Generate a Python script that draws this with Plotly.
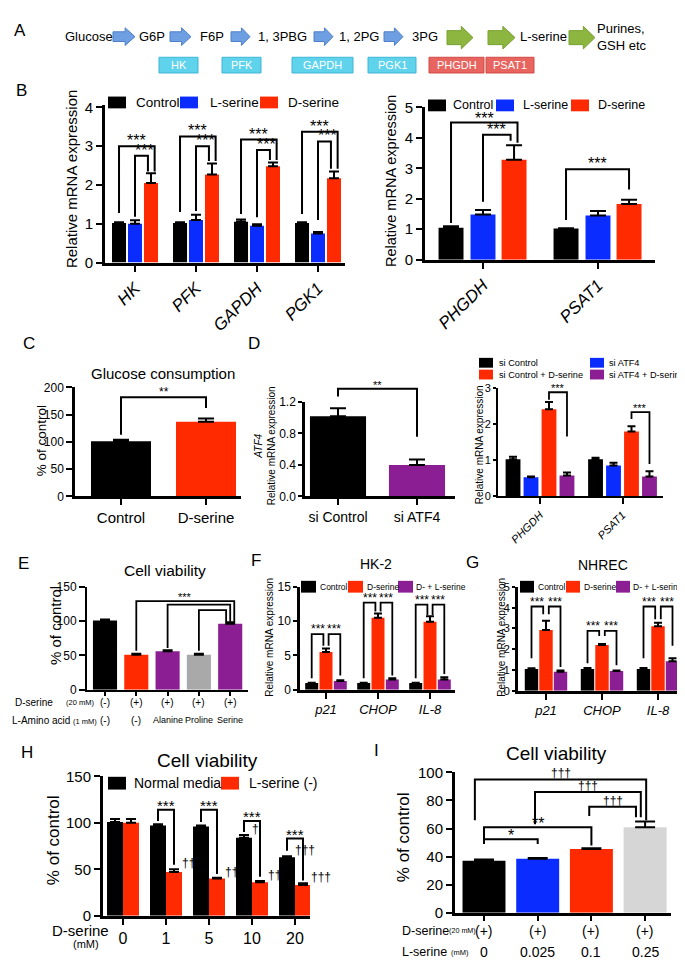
import plotly.graph_objects as go

W, H = 685, 960
FONT = "Liberation Sans, Arial, Helvetica, sans-serif"
BLACK, RED, BLUE, PURPLE = "#000000", "#ff2a00", "#0b2cff", "#8b1e92"
GRAY_E, GRAY_I = "#a9a9a9", "#d6d6d6"

# ======================= DATA =======================
# Panel A (pathway)
a_metabolites = ["Glucose", "G6P", "F6P", "1, 3PBG", "1, 2PG", "3PG", "L-serine", "Purines,<br>GSH etc"]
a_enzymes = ["HK", "PFK", "GAPDH", "PGK1", "PHGDH", "PSAT1"]

# Panel B (left)
b_series = ["Control", "L-serine", "D-serine"]
b1_genes = ["HK", "PFK", "GAPDH", "PGK1"]
b1_ctrl = [1.02, 1.02, 1.05, 1.02]
b1_ctrl_err = [0.02, 0.02, 0.06, 0.02]
b1_lser = [1.00, 1.10, 0.95, 0.75]
b1_lser_err = [0.09, 0.13, 0.04, 0.04]
b1_dser = [2.05, 2.27, 2.48, 2.17]
b1_dser_err = [0.25, 0.28, 0.10, 0.18]

# Panel B (right)
b2_genes = ["PHGDH", "PSAT1"]
b2_ctrl = [1.05, 1.02]
b2_ctrl_err = [0.05, 0.01]
b2_lser = [1.48, 1.45]
b2_lser_err = [0.15, 0.15]
b2_dser = [3.28, 1.83]
b2_dser_err = [0.48, 0.14]

# Panel C
c_groups = ["Control", "D-serine"]
c_vals = [101, 137]
c_err = [3, 6]

# Panel D (left)
d1_groups = ["si Control", "si ATF4"]
d1_vals = [1.02, 0.40]
d1_err = [0.10, 0.07]

# Panel D (right)
d2_genes = ["PHGDH", "PSAT1"]
d2_series = ["si Control", "si ATF4", "si Control + D-serine", "si ATF4 + D-serine"]
d2_sictrl = [1.03, 1.03]
d2_sictrl_err = [0.07, 0.04]
d2_siatf4 = [0.53, 0.86]
d2_siatf4_err = [0.02, 0.07]
d2_sictrl_d = [2.42, 1.80]
d2_sictrl_d_err = [0.20, 0.15]
d2_siatf4_d = [0.58, 0.55]
d2_siatf4_d_err = [0.08, 0.15]

# Panel E
e_dser = ["(-)", "(+)", "(+)", "(+)", "(+)"]
e_aa = ["(-)", "(-)", "Alanine", "Proline", "Serine"]
e_vals = [101, 51, 56, 51, 96]
e_err = [1.5, 1.5, 1.5, 1.5, 2.5]

# Panels F / G
fg_series = ["Control", "D-serine", "D- + L-serine"]
fg_genes = ["p21", "CHOP", "IL-8"]
f_ctrl = [1.0, 1.0, 1.0]
f_ctrl_err = [0.05, 0.05, 0.05]
f_dser = [5.5, 10.5, 9.9]
f_dser_err = [0.5, 0.6, 0.8]
f_dl = [1.3, 1.5, 1.5]
f_dl_err = [0.1, 0.2, 0.35]
g_ctrl = [1.05, 1.05, 1.05]
g_ctrl_err = [0.03, 0.05, 0.05]
g_dser = [2.92, 2.20, 3.10]
g_dser_err = [0.45, 0.05, 0.17]
g_dl = [0.92, 0.95, 1.42]
g_dl_err = [0.06, 0.03, 0.14]

# Panel H
h_series = ["Normal media", "L-serine (-)"]
h_dose = ["0", "1", "5", "10", "20"]
h_normal = [101, 97, 96, 84, 63]
h_normal_err = [3, 1.5, 1, 3, 1]
h_lminus = [100, 47, 40, 36, 33]
h_lminus_err = [4, 3, 1, 1.5, 2]
h_dag_normal = ["", "", "", "\u2020", "\u2020\u2020\u2020"]
h_dag_lminus = ["", "\u2020\u2020\u2020", "\u2020\u2020\u2020", "\u2020\u2020\u2020", "\u2020\u2020\u2020"]

# Panel I
i_dser = ["(+)", "(+)", "(+)", "(+)"]
i_lser = ["0", "0.025", "0.1", "0.25"]
i_vals = [37, 38.5, 45.5, 61]
i_err = [1, 0.5, 0.5, 4]

# ======================= BUILD =======================
fig = go.Figure()
lay = {}
shapes = []
annots = []
PANELS = {}


def names(i):
    s = "" if i == 1 else str(i)
    return "x" + s, "y" + s, "xaxis" + s, "yaxis" + s


def panel(i, xa, xb, c0, step, yt, yb, yr, ytick, yfs, lw, xtv, xtt, xfs,
          xangle=0, italic=False, yfmt=None, xticklen=6, yticklen=6):
    xr_, yr_, xn, yn = names(i)
    xr = [(xa - c0) / step, (xb - c0) / step]
    PANELS[i] = dict(x=xr_, y=yr_, yr=yr)
    common = dict(showline=True, linewidth=lw, linecolor=BLACK, ticks="outside",
                  tickwidth=max(1.5, lw * 0.8), tickcolor=BLACK,
                  showgrid=False, zeroline=False, fixedrange=True)
    lay[xn] = dict(domain=[xa / W, xb / W], range=xr, anchor=yr_, tickmode="array",
                   tickvals=xtv, ticktext=xtt, tickangle=xangle, ticklen=xticklen,
                   tickfont=dict(size=xfs, color=BLACK, family=FONT,
                                 style="italic" if italic else "normal"), **common)
    yd = dict(domain=[1 - yb / H, 1 - yt / H], range=yr, anchor=xr_, tickmode="array",
              tickvals=ytick, ticklen=yticklen, tickfont=dict(size=yfs, color=BLACK, family=FONT), **common)
    if yfmt:
        yd["tickformat"] = yfmt
    lay[yn] = yd


def bars(i, xs, vals, errs, color, width, capw):
    p = PANELS[i]
    fig.add_trace(go.Bar(
        x=xs, y=vals, width=width, xaxis=p["x"], yaxis=p["y"],
        marker=dict(color=color, line=dict(width=0)),
        error_y=dict(type="data", array=errs, arrayminus=[0] * len(errs), symmetric=False,
                     color=BLACK, thickness=2, width=capw),
        showlegend=False, hoverinfo="skip"))


def dom(i, v):
    lo, hi = PANELS[i]["yr"]
    return (v - lo) / (hi - lo)


def bracket(i, x1, x2, ytop, y1, y2, label="", fs=12, lw=1.8, dy=-4, lx=None):
    p = PANELS[i]
    yref = p["y"] + " domain"
    shapes.append(dict(type="path", xref=p["x"], yref=yref,
                       path=f"M {x1},{dom(i, y1)} L {x1},{dom(i, ytop)} L {x2},{dom(i, ytop)} L {x2},{dom(i, y2)}",
                       line=dict(color=BLACK, width=lw), layer="above"))
    if label:
        annots.append(dict(x=(x1 + x2) / 2 if lx is None else lx, y=dom(i, ytop), xref=p["x"], yref=yref,
                           text=label, showarrow=False, xanchor="center", yanchor="bottom", yshift=dy,
                           font=dict(size=fs, color=BLACK, family=FONT)))


def text(xp, yp, s, size, xanchor="center", yanchor="middle", angle=0, color=BLACK,
         italic=False, align="center"):
    annots.append(dict(x=xp / W, y=1 - yp / H, xref="paper", yref="paper", text=s, showarrow=False,
                       xanchor=xanchor, yanchor=yanchor, textangle=angle, align=align,
                       font=dict(size=size, color=color, family=FONT,
                                 style="italic" if italic else "normal")))


def row_text(xref, xv, yp, s, size):
    annots.append(dict(x=xv, y=1 - yp / H, xref=xref, yref="paper", text=s, showarrow=False,
                       xanchor="center", yanchor="middle",
                       font=dict(size=size, color=BLACK, family=FONT)))


def rect(x0, x1, y0, y1, color, line=None):
    shapes.append(dict(type="rect", xref="paper", yref="paper", x0=x0 / W, x1=x1 / W,
                       y0=1 - y1 / H, y1=1 - y0 / H, fillcolor=color,
                       line=dict(width=1 if line else 0, color=line or color), layer="above"))


def legend(items, y, bw, bh, fs):
    for (xb, col, lab, xt) in items:
        rect(xb, xb + bw, y - bh / 2, y + bh / 2, col)
        text(xt, y, lab, fs, xanchor="left")


# ---------------- Panel A ----------------
text(12, 14, "A", 17)
a_text_x = [81, 144, 204, 274, 351, 417, 535, 587]
for k, m in enumerate(a_metabolites):
    if k == len(a_metabolites) - 1:
        text(a_text_x[k], 20, m, 13, xanchor="left", align="left")
    else:
        text(a_text_x[k], 20, m, 13)


def arrow(x0, x1, yc, h, body, fill, edge):
    xm = x0 + (x1 - x0) * 0.55
    pts = [(x0, yc - h * body / 2), (xm, yc - h * body / 2), (xm, yc - h / 2), (x1, yc),
           (xm, yc + h / 2), (xm, yc + h * body / 2), (x0, yc + h * body / 2)]
    path = "M " + " L ".join(f"{x / W:.5f},{1 - y / H:.5f}" for x, y in pts) + " Z"
    shapes.append(dict(type="path", xref="paper", yref="paper", path=path, fillcolor=fill,
                       line=dict(color=edge, width=1), layer="above"))


for (x0, x1) in [(105, 127), (162, 183), (223, 242), (306, 325), (376, 395)]:
    arrow(x0, x1, 20, 18, 0.55, "#6d9fe2", "#4f80c8")
for (x0, x1) in [(439, 465), (480, 507), (561, 587)]:
    arrow(x0, x1, 21, 23, 0.62, "#8db640", "#78a030")
a_box_x = [(151, 190), (214, 253), (284, 345), (360, 408), (421, 476), (478, 526)]
for k, e in enumerate(a_enzymes):
    x0, x1 = a_box_x[k]
    if k < 4:
        rect(x0, x1, 41, 57, "#5fd2ec", "#3fb6d6")
    else:
        rect(x0, x1, 41, 57, "#e8645f", "#cf4b47")
    text((x0 + x1) / 2, 49, e, 11, color="white")

# ---------------- Panel B left (1) ----------------
text(13, 75, "B", 17)
panel(1, 97, 337, 127, 61, 90, 250, [0, 4.05], [0, 1, 2, 3, 4], 15, 3,
      list(range(4)), b1_genes, 17, xangle=-45, italic=True)
off = [-0.262, 0, 0.262]
for j, (v, e, c) in enumerate([(b1_ctrl, b1_ctrl_err, BLACK), (b1_lser, b1_lser_err, BLUE),
                               (b1_dser, b1_dser_err, RED)]):
    bars(1, [g + off[j] for g in range(4)], v, e, c, 0.23, 5)
b1_br = [(3.00, 2.75, 1.28, 1.18, 2.35), (3.25, 3.00, 1.30, 1.33, 2.62),
         (3.17, 2.90, 1.25, 1.17, 2.64), (3.37, 3.12, 1.25, 1.10, 2.42)]
for g, (yo, yi, yc, yl, yd) in enumerate(b1_br):
    bracket(1, g - 0.262, g + 0.262 + 0.06, yo, yc, yd, "***", 16, 2, -5)
    bracket(1, g, g + 0.262 - 0.05, yi, yl, yd, "***", 16, 2, -5, lx=g + 0.16)
text(63, 165, "Relative mRNA expression", 15, angle=-90)
legend([(100, BLACK, b_series[0], 126), (172, BLUE, b_series[1], 200), (252, RED, b_series[2], 278)],
       87, 18, 12, 13.5)

# ---------------- Panel B right (2) ----------------
panel(2, 417, 647, 475, 115, 92, 247, [0, 5], [0, 1, 2, 3, 4, 5], 15, 3,
      [0, 1], b2_genes, 17, xangle=-45, italic=True)
off = [-0.278, 0, 0.27]
for j, (v, e, c) in enumerate([(b2_ctrl, b2_ctrl_err, BLACK), (b2_lser, b2_lser_err, BLUE),
                               (b2_dser, b2_dser_err, RED)]):
    bars(2, [g + off[j] for g in range(2)], v, e, c, 0.217, 8)
bracket(2, -0.278, 0.30, 4.5, 1.2, 3.84, "***", 16, 2, -6)
bracket(2, 0, 0.24, 4.1, 1.9, 3.9, "***", 16, 2, -5)
bracket(2, 1 - 0.278, 1.27, 2.97, 1.3, 2.3, "***", 16, 2, -5)
text(383, 167, "Relative mRNA expression", 14.5, angle=-90)
legend([(420, BLACK, b_series[0], 443), (488, BLUE, b_series[1], 513), (563, RED, b_series[2], 588)],
       90, 18, 12, 12.5)

# ---------------- Panel C (3) ----------------
text(21, 332, "C", 17)
panel(3, 67, 233, 113, 85, 377, 488, [0, 200], [0, 50, 100, 150, 200], 12, 2.5,
      [0, 1], c_groups, 15)
bars(3, [0, 1], c_vals, c_err, [BLACK, RED], 0.706, 8)
bracket(3, 0, 1, 182, 113, 162, "**", 12, 2, -4)
text(155, 363, "Glucose consumption", 15)
text(33, 432, "% of control", 13.5, angle=-90)

# ---------------- Panel D left (4) ----------------
text(246, 332, "D", 17)
panel(4, 297, 447, 330, 79, 392, 488, [0, 1.2], [0, 0.4, 0.8, 1.2], 12, 2.5,
      [0, 1], d1_groups, 14, yfmt=".1f", yticklen=4)
bars(4, [0, 1], d1_vals, d1_err, [BLACK, PURPLE], 0.71, 8)
bracket(4, 0, 1, 1.37, 1.27, 0.76, "**", 11, 2, -4)
text(257, 437, "<i>ATF4</i><br>Relative mRNA expression", 10, angle=-90)

# ---------------- Panel D right (5) ----------------
panel(5, 490, 655, 532, 82.5, 378, 488, [0, 3], [0, 1, 2, 3], 11, 2,
      [0, 1], d2_genes, 11, xangle=-45, italic=True, yticklen=3)
off = [-0.327, -0.109, 0.109, 0.327]
for j, (v, e, c) in enumerate([(d2_sictrl, d2_sictrl_err, BLACK), (d2_siatf4, d2_siatf4_err, BLUE),
                               (d2_sictrl_d, d2_sictrl_d_err, RED), (d2_siatf4_d, d2_siatf4_d_err, PURPLE)]):
    bars(5, [g + off[j] for g in range(2)], v, e, c, 0.18, 4)
bracket(5, 0.109, 0.327, 2.89, 2.68, 1.66, "***", 11, 1.8, -4)
bracket(5, 1.109, 1.327, 2.34, 2.15, 0.90, "***", 11, 1.8, -4)
text(471, 436, "Relative mRNA expression", 10, angle=-90)
legend([(471, BLACK, d2_series[0], 489), (582, BLUE, d2_series[1], 599)], 352, 14, 10, 9.2)
legend([(471, RED, d2_series[2], 489), (582, PURPLE, d2_series[3], 599)], 364, 14, 10, 9.2)

# ---------------- Panel E (6) ----------------
text(15, 556, "E", 17)
panel(6, 79, 240, 97, 31.3, 580, 685, [0, 150], [0, 50, 100, 150], 12, 2,
      list(range(5)), [""] * 5, 10, xticklen=4)
bars(6, list(range(5)), e_vals, e_err, [BLACK, RED, PURPLE, GRAY_E, PURPLE], 0.77, 5)
bracket(6, 1, 4.13, 129, 57, 99, "***", 11, 1.8, -4)
bracket(6, 2, 4.0, 124, 61, 99)
bracket(6, 3, 3.87, 116, 57, 99)
text(157, 563, "Cell viability", 15.5)
text(47, 620, "% of control", 15, angle=-90)
text(5, 698, "D-serine", 10, xanchor="left")
text(56, 698, "(20 mM)", 7.5, xanchor="left")
text(2, 716, "L-Amino acid", 10, xanchor="left")
text(63, 717, "(1 mM)", 7.5, xanchor="left")
for k in range(5):
    row_text("x6", k, 698, e_dser[k], 10)
    row_text("x6", k, 716, e_aa[k], 10 if k < 2 else 9)

# ---------------- Panel F (7) ----------------
text(248, 553, "F", 17)
panel(7, 292, 447, 318, 52, 580, 685, [0, 15], [0, 5, 10, 15], 12, 2.5,
      [0, 1, 2], fg_genes, 13, italic=True, yticklen=4)
off = [-0.275, 0, 0.275]
for j, (v, e, c) in enumerate([(f_ctrl, f_ctrl_err, BLACK), (f_dser, f_dser_err, RED), (f_dl, f_dl_err, PURPLE)]):
    bars(7, [g + off[j] for g in range(3)], v, e, c, 0.25, 4)
f_br = [(8.1, 1.7, 6.4, 2.1), (12.7, 1.7, 11.4, 2.1), (12.4, 1.7, 10.9, 2.3)]
for g, (yt, yc, yd, yp) in enumerate(f_br):
    bracket(7, g - 0.275, g - 0.05, yt, yc, yd, "***", 12, 1.8, -4)
    bracket(7, g + 0.05, g + 0.275, yt, yd, yp, "***", 12, 1.8, -4)
text(368, 557, "HK-2", 14)
text(262, 632, "Relative mRNA expression", 10, angle=-90)
legend([(293, BLACK, fg_series[0], 310), (340, RED, fg_series[1], 357), (390, PURPLE, fg_series[2], 406)],
       580, 15, 12, 8.5)

# ---------------- Panel G (8) ----------------
text(465, 555, "G", 17)
panel(8, 510, 682, 538, 56, 580, 686, [0, 5], [0, 1, 2, 3, 4, 5], 11.5, 2.5,
      [0, 1, 2], fg_genes, 13, italic=True, yticklen=3)
off = [-0.259, 0, 0.259]
for j, (v, e, c) in enumerate([(g_ctrl, g_ctrl_err, BLACK), (g_dser, g_dser_err, RED), (g_dl, g_dl_err, PURPLE)]):
    bars(8, [g + off[j] for g in range(3)], v, e, c, 0.24, 4)
g_br = [(4.05, 1.56, 3.68, 1.15), (2.88, 1.32, 2.64, 1.23), (4.05, 1.56, 3.44, 2.17)]
for g, (yt, yc, yd, yp) in enumerate(g_br):
    bracket(8, g - 0.259, g - 0.05, yt, yc, yd, "***", 12, 1.8, -4)
    bracket(8, g + 0.05, g + 0.259, yt, yd, yp, "***", 12, 1.8, -4)
text(595, 558, "NHREC", 14)
text(494, 632, "Relative mRNA expression", 10, angle=-90)
legend([(512, BLACK, fg_series[0], 528), (558, RED, fg_series[1], 574), (608, PURPLE, fg_series[2], 623)],
       580, 14, 12, 8.5)

# ---------------- Panel H (9) ----------------
text(19, 749, "H", 17)
panel(9, 95, 302, 115, 43, 773, 915, [0, 150], [0, 50, 100, 150], 15, 3,
      list(range(5)), h_dose, 16)
off = [-0.186, 0.186]
bars(9, [g + off[0] for g in range(5)], h_normal, h_normal_err, BLACK, 0.372, 5)
bars(9, [g + off[1] for g in range(5)], h_lminus, h_lminus_err, RED, 0.372, 5)
h_br = [(1, 114, 102, 55), (2, 114, 101, 45), (3, 102, 90, 42), (4, 83, 70, 38)]
for (g, yt, yc, yr_) in h_br:
    bracket(9, g - 0.186, g + 0.186, yt, yc, yr_, "***", 15, 2, -6)
for g in range(5):
    if h_dag_normal[g]:
        annots.append(dict(x=g - 0.05, y=h_normal[g] + h_normal_err[g], xref="x9", yref="y9",
                           text=h_dag_normal[g], showarrow=False, xanchor="left", yanchor="bottom",
                           yshift=-3, font=dict(size=12, color=BLACK, family=FONT)))
    if h_dag_lminus[g]:
        annots.append(dict(x=g + 0.33, y=h_lminus[g] + h_lminus_err[g], xref="x9", yref="y9",
                           text=h_dag_lminus[g], showarrow=False, xanchor="left", yanchor="bottom",
                           yshift=-3, font=dict(size=12, color=BLACK, family=FONT)))
text(200, 757, "Cell viability", 19)
text(45, 838, "% of control", 17, angle=-90)
text(103, 930, "D-serine", 15, xanchor="right")
text(78, 944, "(mM)", 11)
legend([(100, BLACK, h_series[0], 124), (213, RED, h_series[1], 239)], 780, 18, 13, 14)

# ---------------- Panel I (10) ----------------
text(368, 747, "I", 17)
panel(10, 447, 663, 476, 53.7, 769, 912, [0, 100], [0, 20, 40, 60, 80, 100], 15, 3,
      list(range(4)), [""] * 4, 14, xticklen=5)
bars(10, list(range(4)), i_vals, i_err, [BLACK, BLUE, RED, GRAY_I], 0.8, 10)
bracket(10, 0, 1, 52.4, 49, 49, "*", 16, 2, -7)
bracket(10, 0, 2, 61, 52.4, 48, "**", 16, 2, -7)
bracket(10, -0.17, 3.02, 95, 66, 66, "\u2020\u2020\u2020", 12, 2, -3)
bracket(10, 0.95, 2.92, 86, 63, 68, "\u2020\u2020\u2020", 12, 2, -3)
bracket(10, 1.96, 2.83, 75.5, 69, 68, "\u2020\u2020\u2020", 12, 2, -3)
text(548, 750, "Cell viability", 19)
text(395, 835, "% of control", 17, angle=-90)
text(392, 930, "D-serine", 12.5, xanchor="left")
text(439, 930, "(20 mM)", 7.2, xanchor="left")
text(392, 952, "L-serine", 12.5, xanchor="left")
text(441, 952, "(mM)", 7.5, xanchor="left")
for k in range(4):
    row_text("x10", k, 930, i_dser[k], 14)
    row_text("x10", k, 952, i_lser[k], 14)

fig.update_layout(width=W, height=H, autosize=False, margin=dict(l=0, r=0, t=0, b=0),
                  paper_bgcolor="white", plot_bgcolor="white", barmode="overlay",
                  font=dict(family=FONT, color=BLACK), showlegend=False,
                  shapes=shapes, annotations=annots, **lay)
fig.write_html("out.html")
